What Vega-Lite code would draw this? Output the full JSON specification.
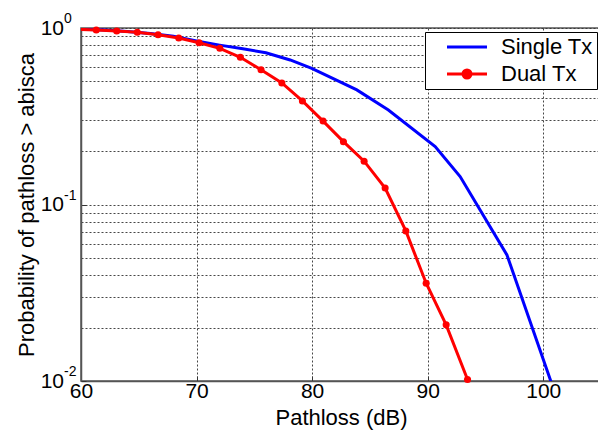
{
  "$schema": "https://vega.github.io/schema/vega-lite/v6.json",
  "width": 520,
  "height": 353,
  "autosize": {"type": "none"},
  "padding": {"left": 81, "top": 28, "right": 0, "bottom": 49},
  "background": "white",
  "config": {
    "font": "Liberation Sans",
    "view": {"stroke": "#555555", "strokeWidth": 1.5},
    "axis": {
      "labelFont": "Liberation Sans",
      "titleFont": "Liberation Sans",
      "labelFontSize": 21,
      "titleFontSize": 22,
      "titleFontWeight": "normal",
      "labelColor": "black",
      "titleColor": "black",
      "labelFlush": false,
      "domainColor": "#555555",
      "domainWidth": 1.5,
      "tickColor": "#333333",
      "tickWidth": 1,
      "gridColor": "#333333",
      "gridDash": [2, 2],
      "gridWidth": 1,
      "gridOpacity": 0.9
    },
    "legend": {
      "labelFont": "Liberation Sans",
      "labelFontSize": 22,
      "labelColor": "black",
      "strokeColor": "black",
      "fillColor": "white",
      "padding": 4,
      "rowPadding": 5,
      "labelLimit": 300
    }
  },
  "data": {
    "values": [
      {"series": "Single Tx", "x": 60, "p": 0.985},
      {"series": "Single Tx", "x": 62, "p": 0.973},
      {"series": "Single Tx", "x": 64, "p": 0.956},
      {"series": "Single Tx", "x": 66, "p": 0.932},
      {"series": "Single Tx", "x": 68, "p": 0.897},
      {"series": "Single Tx", "x": 70, "p": 0.845},
      {"series": "Single Tx", "x": 72, "p": 0.80},
      {"series": "Single Tx", "x": 74, "p": 0.762},
      {"series": "Single Tx", "x": 76, "p": 0.724},
      {"series": "Single Tx", "x": 78.1, "p": 0.659},
      {"series": "Single Tx", "x": 79.97, "p": 0.591},
      {"series": "Single Tx", "x": 83.87, "p": 0.446},
      {"series": "Single Tx", "x": 86.6, "p": 0.343},
      {"series": "Single Tx", "x": 90.65, "p": 0.213},
      {"series": "Single Tx", "x": 92.81, "p": 0.144},
      {"series": "Single Tx", "x": 96.86, "p": 0.0518},
      {"series": "Single Tx", "x": 100.7, "p": 0.0098},
      {"series": "Dual Tx", "x": 59.53, "p": 0.985},
      {"series": "Dual Tx", "x": 61.32, "p": 0.974},
      {"series": "Dual Tx", "x": 63.09, "p": 0.962},
      {"series": "Dual Tx", "x": 64.87, "p": 0.945},
      {"series": "Dual Tx", "x": 66.67, "p": 0.916},
      {"series": "Dual Tx", "x": 68.46, "p": 0.878},
      {"series": "Dual Tx", "x": 70.22, "p": 0.825},
      {"series": "Dual Tx", "x": 72.01, "p": 0.767},
      {"series": "Dual Tx", "x": 73.79, "p": 0.682},
      {"series": "Dual Tx", "x": 75.58, "p": 0.580},
      {"series": "Dual Tx", "x": 77.38, "p": 0.488},
      {"series": "Dual Tx", "x": 79.16, "p": 0.386},
      {"series": "Dual Tx", "x": 80.95, "p": 0.297},
      {"series": "Dual Tx", "x": 82.71, "p": 0.227},
      {"series": "Dual Tx", "x": 84.5, "p": 0.176},
      {"series": "Dual Tx", "x": 86.32, "p": 0.124},
      {"series": "Dual Tx", "x": 88.11, "p": 0.0708},
      {"series": "Dual Tx", "x": 89.87, "p": 0.0358},
      {"series": "Dual Tx", "x": 91.6, "p": 0.0208},
      {"series": "Dual Tx", "x": 93.45, "p": 0.0102}
    ]
  },
  "layer": [
    {
      "mark": {"type": "line", "strokeWidth": 3, "clip": true},
      "encoding": {
        "x": {
          "field": "x", "type": "quantitative",
          "scale": {"domain": [60, 105], "nice": false, "zero": false},
          "axis": {
            "values": [60, 70, 80, 90, 100],
            "title": "Pathloss (dB)",
            "tickSize": -5,
            "labelPadding": 4,
            "titlePadding": 6,
            "labelFlush": false,
            "grid": true
          }
        },
        "y": {
          "field": "p", "type": "quantitative",
          "scale": {"type": "log", "domain": [0.01, 1], "nice": false},
          "axis": {
            "values": [0.01, 0.02, 0.03, 0.04, 0.05, 0.06, 0.07, 0.08, 0.09, 0.1, 0.2, 0.3, 0.4, 0.5, 0.6, 0.7, 0.8, 0.9, 1],
            "labelExpr": "(datum.value == 1 || abs(datum.value - 0.1) < 1e-9 || abs(datum.value - 0.01) < 1e-9) ? '10' : ''",
            "title": "Probability of pathloss > abisca",
            "tickSize": -5,
            "tickOpacity": {"condition": {"test": "datum.value == 1 || abs(datum.value - 0.1) < 1e-9 || abs(datum.value - 0.01) < 1e-9", "value": 1}, "value": 0},
            "labelPadding": 22.5,
            "titlePadding": 2,
            "labelFlush": false,
            "grid": true
          }
        },
        "color": {
          "field": "series", "type": "nominal",
          "scale": {"domain": ["Single Tx", "Dual Tx"], "range": ["#0000ff", "#ff0000"]},
          "legend": {
            "title": null,
            "orient": "top-right",
            "offset": 4,
            "symbolSize": 100,
            "symbolStrokeWidth": 3,
            "symbolOffset": 12,
            "labelOffset": 38,
            "labelExpr": "datum.label + '\u2002'",
            "encode": {
              "symbols": {
                "update": {
                  "shape": {"signal": "datum.value === 'Dual Tx' ? 'M-1,0H7M3.8,0A0.8,0.8 0 1,1 2.2,0A0.8,0.8 0 1,1 3.8,0Z' : 'M-1,0H7'"},
                  "fill": {"signal": "datum.value === 'Dual Tx' ? '#ff0000' : 'transparent'"},
                  "strokeWidth": {"value": 3}
                }
              }
            }
          }
        }
      }
    },
    {
      "transform": [{"filter": "datum.series === 'Dual Tx' && datum.x >= 60"}],
      "mark": {"type": "point", "filled": true, "size": 50, "color": "#ff0000", "opacity": 1},
      "encoding": {
        "x": {"field": "x", "type": "quantitative"},
        "y": {"field": "p", "type": "quantitative"}
      }
    },
    {
      "data": {
        "values": [
          {"p": 1, "e": "0"},
          {"p": 0.1, "e": "-1"},
          {"p": 0.01, "e": "-2"}
        ]
      },
      "mark": {"type": "text", "align": "left", "baseline": "alphabetic", "fontSize": 14, "dx": -17, "dy": -5, "color": "black", "font": "Liberation Sans"},
      "encoding": {
        "x": {"datum": 60, "type": "quantitative"},
        "y": {"field": "p", "type": "quantitative"},
        "text": {"field": "e", "type": "nominal"}
      }
    }
  ]
}
